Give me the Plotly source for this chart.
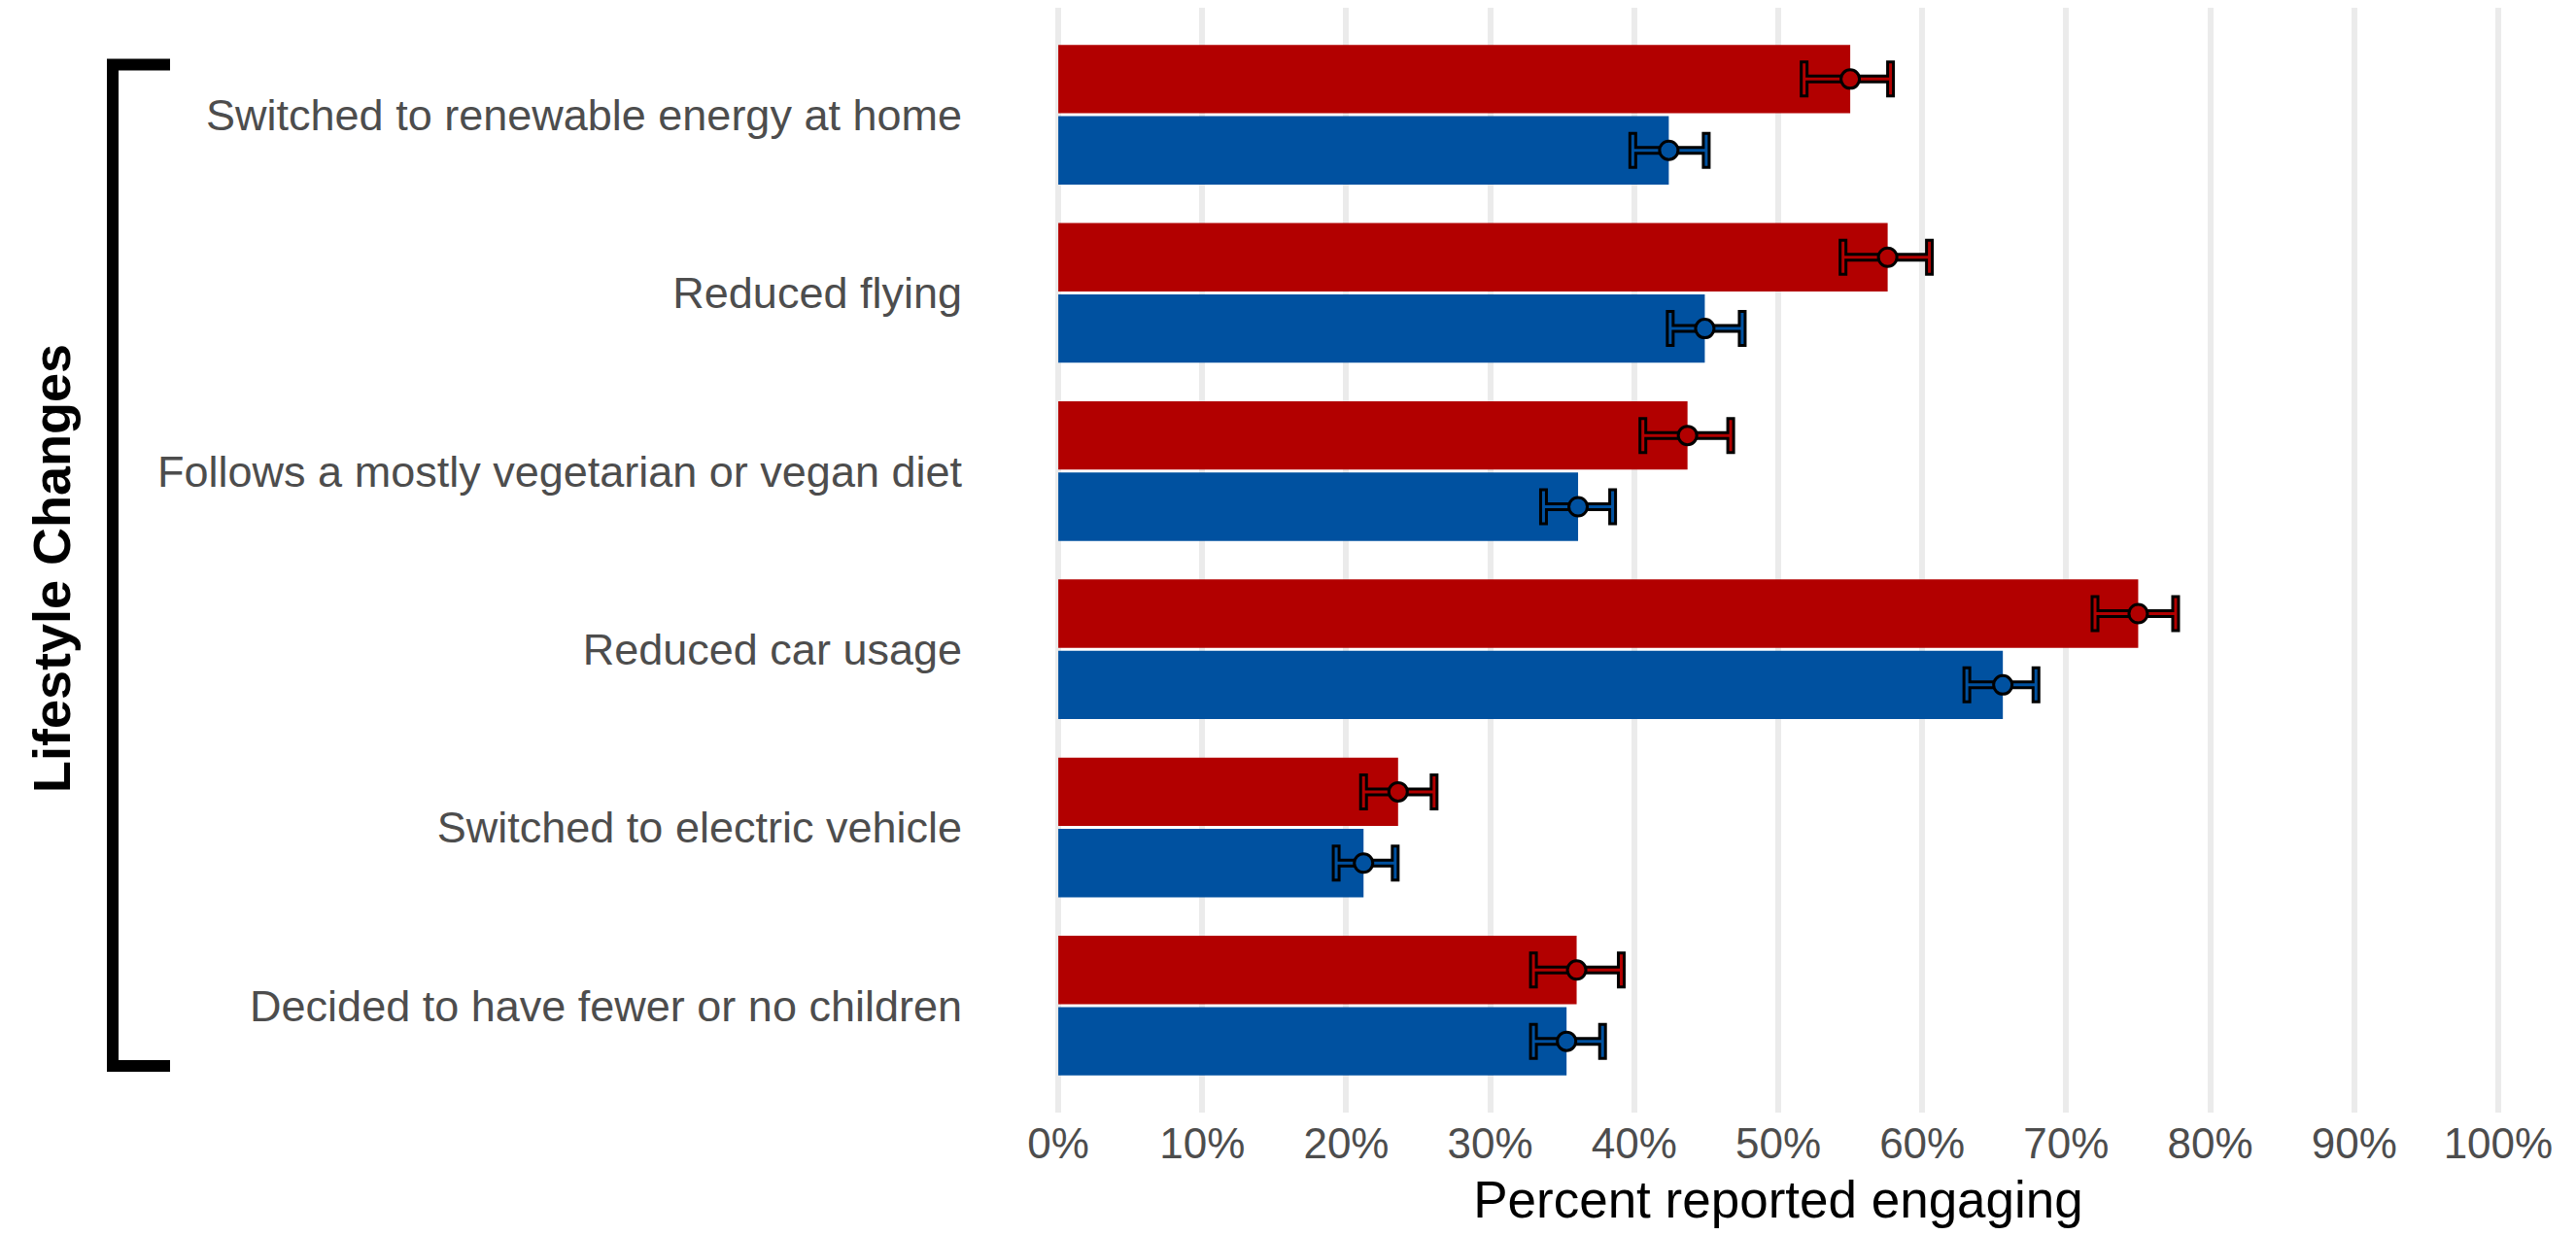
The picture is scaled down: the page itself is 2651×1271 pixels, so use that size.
import plotly.graph_objects as go

# categories, top to bottom
categories = [
    "Switched to renewable energy at home",
    "Reduced flying",
    "Follows a mostly vegetarian or vegan diet",
    "Reduced car usage",
    "Switched to electric vehicle",
    "Decided to have fewer or no children",
]

# percent reported engaging, with 95% CI bounds
red_mean = [55.0, 57.6, 43.7, 75.0, 23.6, 36.0]
red_low = [51.8, 54.5, 40.6, 72.0, 21.2, 33.0]
red_high = [57.8, 60.5, 46.7, 77.6, 26.1, 39.1]

blue_mean = [42.4, 44.9, 36.1, 65.6, 21.2, 35.3]
blue_low = [39.9, 42.5, 33.7, 63.1, 19.3, 33.0]
blue_high = [45.0, 47.5, 38.5, 67.9, 23.4, 37.8]

x_ticks = [0, 10, 20, 30, 40, 50, 60, 70, 80, 90, 100]
x_tick_labels = ["0%", "10%", "20%", "30%", "40%", "50%",
                 "60%", "70%", "80%", "90%", "100%"]

RED = "#B20000"
BLUE = "#0051A0"
FONT = "Liberation Sans, Arial, sans-serif"

W, H = 2651, 1271
ML, MR, MT, MB = 1007, 14, 0, 134
PW, PH = W - ML - MR, H - MT - MB


def px_x(p):  # pixel -> paper x
    return (p - ML) / PW


def px_y(p):  # pixel -> paper y
    return (H - MB - p) / PH


fig = go.Figure()

series = [("red", red_mean, red_low, red_high, RED),
          ("blue", blue_mean, blue_low, blue_high, BLUE)]

for name, mean, low, high, color in series:
    fig.add_trace(go.Bar(
        x=mean, y=categories, orientation="h", name=name,
        offsetgroup=name, marker_color=color, marker_line_width=0,
        showlegend=False,
    ))

for name, mean, low, high, color in series:
    plus = [h - m for h, m in zip(high, mean)]
    minus = [m - l for m, l in zip(mean, low)]
    # black outline of the error bar
    fig.add_trace(go.Scatter(
        x=mean, y=categories, orientation="h", mode="markers",
        offsetgroup=name, marker=dict(size=1, opacity=0),
        error_x=dict(type="data", array=plus, arrayminus=minus,
                     color="black", thickness=9, width=19),
        showlegend=False,
    ))
    # coloured inner error bar + point
    fig.add_trace(go.Scatter(
        x=mean, y=categories, orientation="h", mode="markers",
        offsetgroup=name,
        marker=dict(size=19, color=color, line=dict(color="black", width=3)),
        error_x=dict(type="data", array=plus, arrayminus=minus,
                     color=color, thickness=3, width=16),
        showlegend=False,
    ))

# bracket on the left
bx, btop, bbot, bend = 108, 58.5, 1089, 167
fig.add_shape(
    type="path", xref="paper", yref="paper",
    path=f"M {px_x(bend)},{px_y(btop)} L {px_x(bx)},{px_y(btop)} "
         f"L {px_x(bx)},{px_y(bbot)} L {px_x(bend)},{px_y(bbot)}",
    line=dict(color="black", width=12),
)

fig.add_annotation(
    text="<b>Lifestyle Changes</b>", textangle=-90,
    x=px_x(45), y=px_y(577), xref="paper", yref="paper",
    xanchor="center", yanchor="middle", showarrow=False,
    font=dict(family=FONT, size=54, color="black"),
)

fig.update_layout(
    width=W, height=H,
    margin=dict(l=ML, r=MR, t=MT, b=MB),
    plot_bgcolor="white", paper_bgcolor="white",
    barmode="group", bargap=0.2, bargroupgap=0.04,
    scattermode="group", scattergap=0.2,
    showlegend=False,
    font=dict(family=FONT, size=45, color="#4D4D4D"),
)

fig.update_xaxes(
    range=[-5, 105], tickvals=x_ticks, ticktext=x_tick_labels,
    showgrid=True, gridcolor="#EBEBEB", gridwidth=6,
    zeroline=False, showline=False, ticks="",
    ticklabelstandoff=2,
    tickfont=dict(size=44, color="#4D4D4D"),
    title=dict(text="Percent reported engaging", standoff=15,
               font=dict(size=53, color="black")),
)

fig.update_yaxes(
    type="category", categoryorder="array", categoryarray=categories,
    range=[5.6, -0.6], showgrid=False, zeroline=False, showline=False,
    ticks="", ticklabelstandoff=24,
    tickfont=dict(size=45, color="#4D4D4D"),
)

fig.write_html("out.html")
